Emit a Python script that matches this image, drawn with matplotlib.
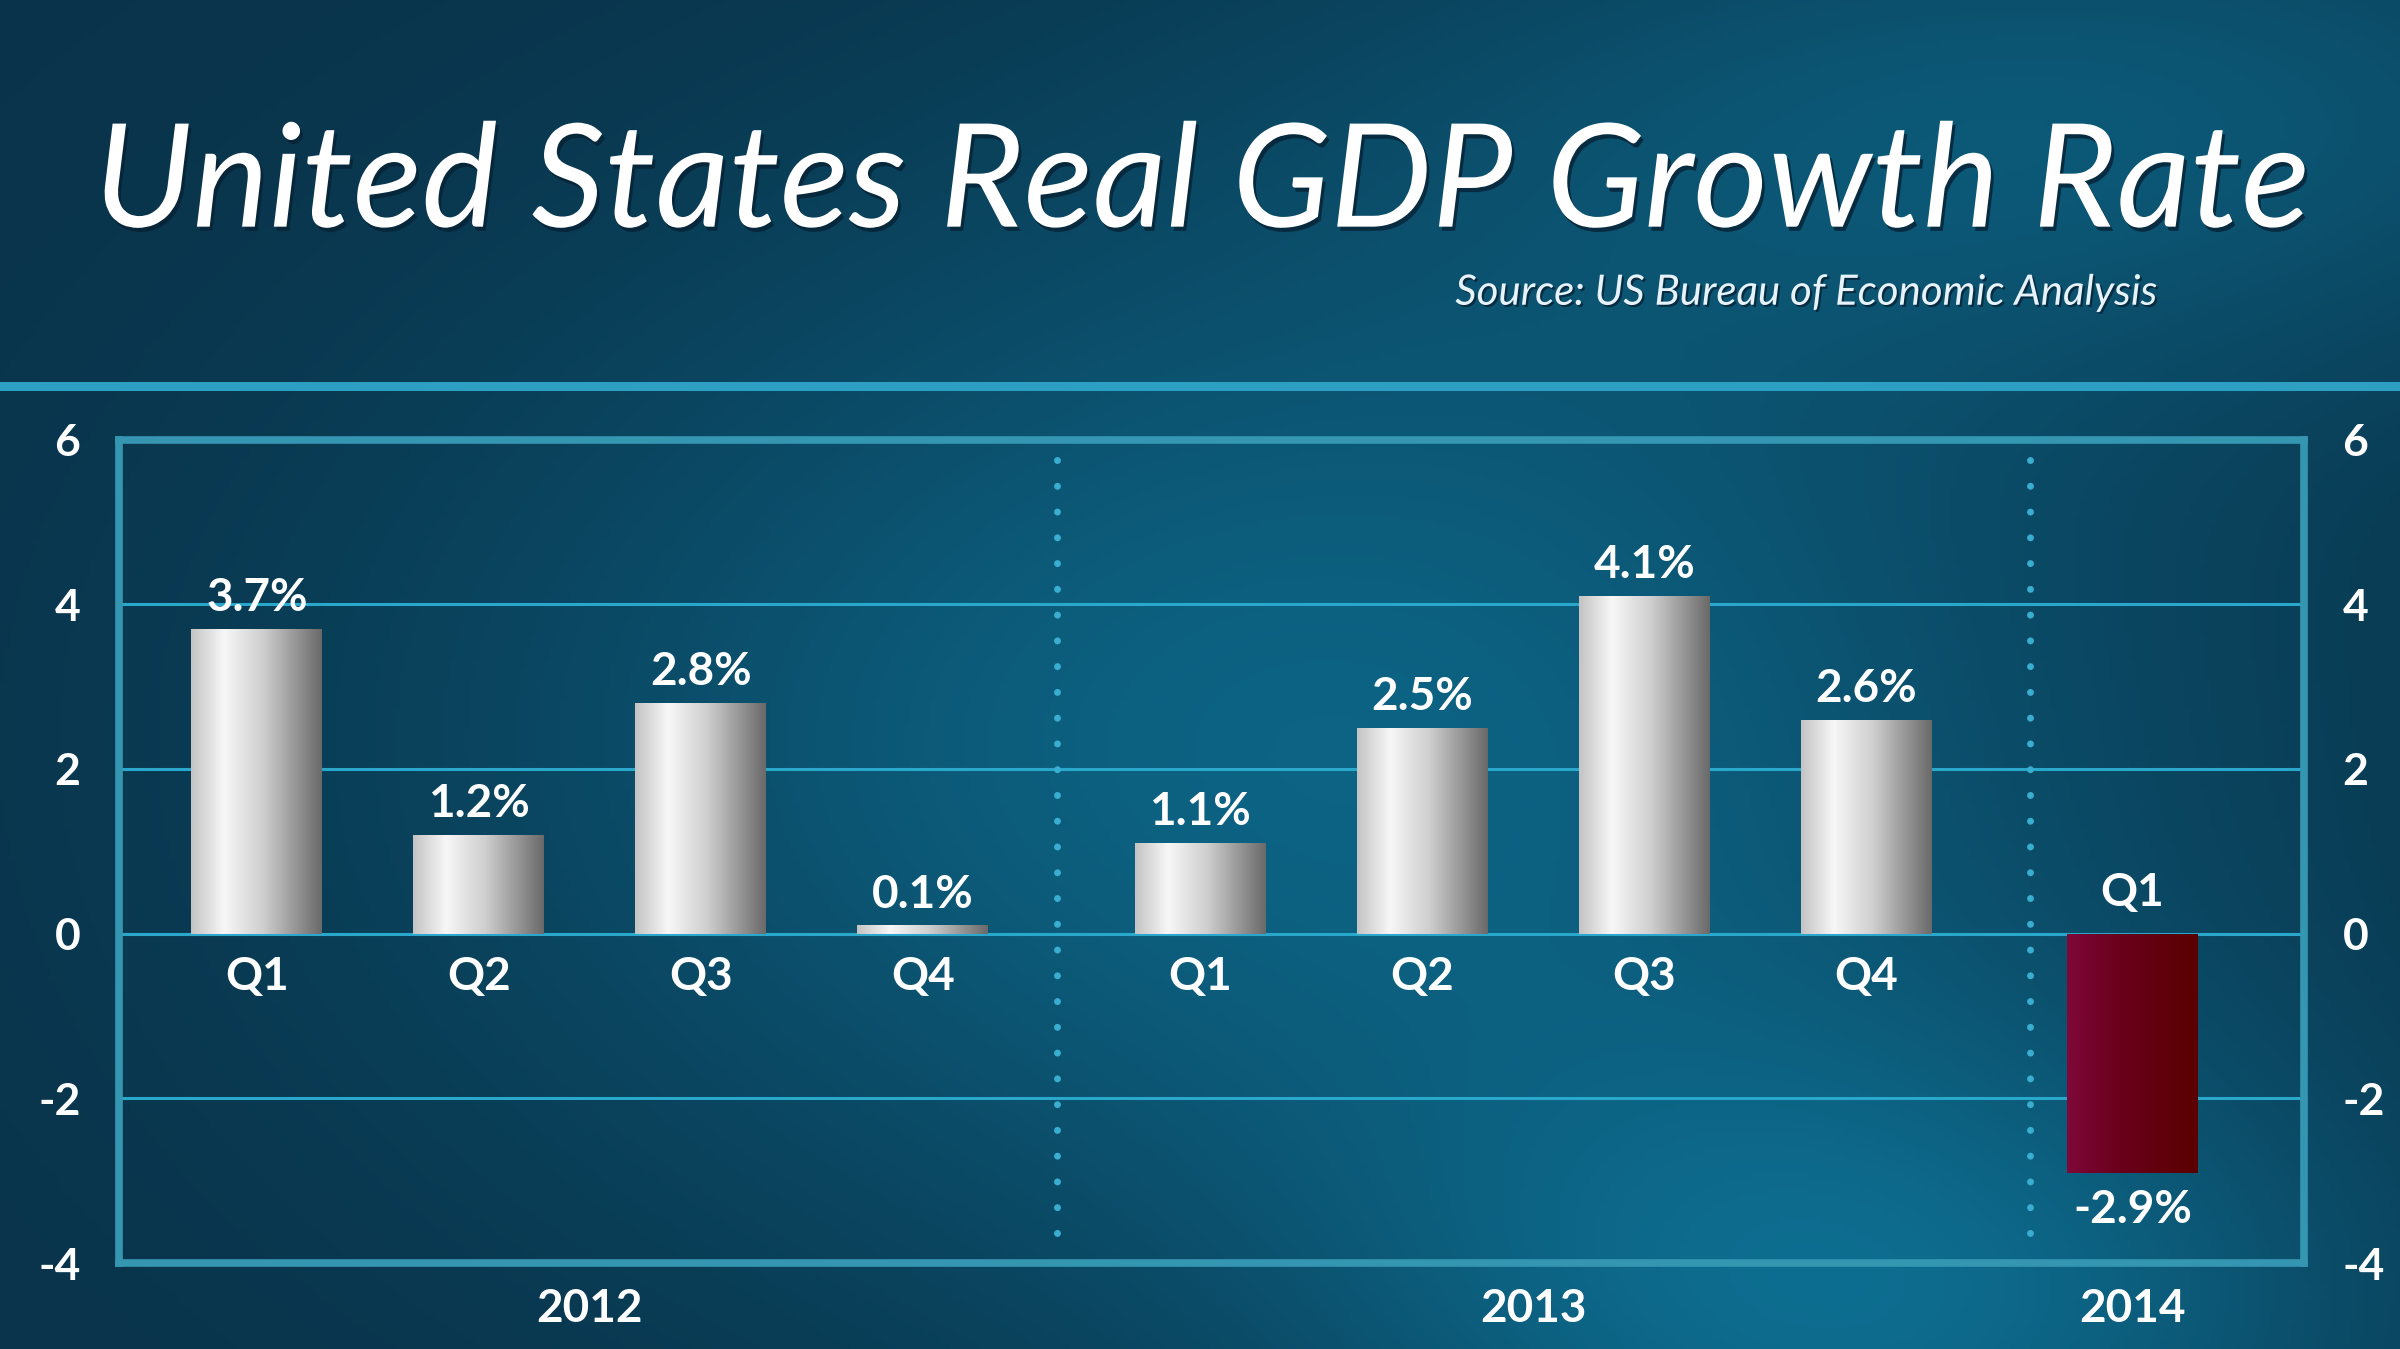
import numpy as np
import matplotlib.pyplot as plt
import matplotlib.patheffects as pe
from matplotlib.colors import LinearSegmentedColormap
from matplotlib.transforms import blended_transform_factory

# Data (quarterly real GDP growth, annualised %)
years = ["2012", "2013", "2014"]
quarters = ["Q1", "Q2", "Q3", "Q4", "Q1", "Q2", "Q3", "Q4", "Q1"]
year_of_bar = [0, 0, 0, 0, 1, 1, 1, 1, 2]
growth = [3.7, 1.2, 2.8, 0.1, 1.1, 2.5, 4.1, 2.6, -2.9]
value_labels = ["3.7%", "1.2%", "2.8%", "0.1%", "1.1%", "2.5%", "4.1%", "2.6%", "-2.9%"]
y_ticks = [-4, -2, 0, 2, 4, 6]

title = "United States Real GDP Growth Rate"
source = "Source: US Bureau of Economic Analysis"

# layout: quarters spaced 1 apart, a bit of extra room between years
group_gap = [0.0, 0.25, 0.45]
xpos = [i + group_gap[g] for i, g in enumerate(year_of_bar)]
bar_width = 0.59

W, H, DPI = 24, 13.49, 100
fig = plt.figure(figsize=(W, H), dpi=DPI)

# background: dark navy with a soft teal glow
bg = fig.add_axes([0, 0, 1, 1], zorder=0)
bg.set_axis_off()
ny, nx = 270, 480
yy, xx = np.mgrid[0:1:ny * 1j, 0:1:nx * 1j]   # yy = 0 at top
base = np.array([0.035, 0.20, 0.29])
glow = np.array([0.02, 0.25, 0.30])

def blob(cx, cy, sx, sy):
    return np.exp(-(((xx - cx) / sx) ** 2 + ((yy - cy) / sy) ** 2))

g = (0.75 * blob(0.55, 0.55, 0.35, 0.40)
     + 0.75 * blob(0.78, 0.98, 0.22, 0.22)
     + 0.50 * blob(0.88, 0.08, 0.30, 0.20))
g = np.clip(g, 0, 1.2)
img = base[None, None, :] + g[..., None] * glow[None, None, :]
img = np.clip(img, 0, 1)
bg.imshow(img, extent=[0, 1, 0, 1], aspect="auto", origin="upper")
bg.set_xlim(0, 1)
bg.set_ylim(0, 1)

# separator line under the title
bg.axhline(0.714, color="#2c9fc2", lw=6.5, zorder=2)

# title and source
t = fig.text(0.501, 0.862, title, ha="center", va="center", color="white",
             family="Lato", style="italic", fontsize=100,
             path_effects=[pe.withSimplePatchShadow(offset=(2, -3), shadow_rgbFace="#062235", alpha=0.8)])
s = fig.text(0.899, 0.783, source, ha="right", va="center", color="#e6f3fb",
             family="Lato", style="italic", fontsize=30,
             path_effects=[pe.withSimplePatchShadow(offset=(1.5, -1.5), shadow_rgbFace="#062235", alpha=0.8)])

# fit text widths to the reference
fig.canvas.draw()
r = fig.canvas.get_renderer()
for txt, target in [(t, 2216), (s, 701)]:
    w = txt.get_window_extent(r).width
    txt.set_fontsize(txt.get_fontsize() * target / w)

# main plot
ax = fig.add_axes([0.0497, 0.0636, 0.9101, 0.6106], zorder=1)
ax.patch.set_alpha(0)
xmin, xmax = -0.62, 9.22
ymin, ymax = -4, 6

for yv in [-2, 0, 2, 4]:
    ax.axhline(yv, color="#2aa8cc", lw=2.2, zorder=1)

seps = [(xpos[3] + xpos[4]) / 2 - 0.02, (xpos[7] + xpos[8]) / 2 + 0.14]
for sep in seps:
    ax.plot([sep, sep], [5.75, -3.65], color="#3aaed0", lw=5,
            linestyle=(0, (0.01, 3.7)), dash_capstyle="round", zorder=1)

bars = ax.bar(xpos, growth, width=bar_width, zorder=2, color="#bbbbbb", lw=0)

silver = LinearSegmentedColormap.from_list(
    "silver", [(0, "#c4c4c4"), (0.25, "#f7f7f7"), (0.55, "#cfcfcf"), (1, "#6a6a6a")])
maroon = LinearSegmentedColormap.from_list(
    "maroon", [(0, "#7e0838"), (0.4, "#6a001c"), (1, "#5a0000")])
grad = np.linspace(0, 1, 200)[None, :]

for rect, v in zip(bars, growth):
    x0, y0 = rect.get_x(), rect.get_y()
    w, h = rect.get_width(), rect.get_height()
    im = ax.imshow(grad, cmap=silver if v >= 0 else maroon, aspect="auto",
                   extent=[x0, x0 + w, min(y0, y0 + h), max(y0, y0 + h)],
                   zorder=3, interpolation="bicubic")
    im.set_clip_path(rect)

lab = dict(color="white", family="Lato", fontweight="bold", fontsize=33, ha="center")
for x, v, txt, q in zip(xpos, growth, value_labels, quarters):
    if v >= 0:
        ax.annotate(txt, (x, v), xytext=(0, 7), textcoords="offset points",
                    va="bottom", zorder=5, **lab)
        ax.annotate(q, (x, 0), xytext=(0, -31), textcoords="offset points",
                    va="center", zorder=5, **lab)
    else:
        ax.annotate(txt, (x, v), xytext=(0, -27), textcoords="offset points",
                    va="center", zorder=5, **lab)
        ax.annotate(q, (x, 0), xytext=(0, 29), textcoords="offset points",
                    va="center", zorder=5, **lab)

# year labels centred under their quarters
trans = blended_transform_factory(ax.transData, ax.transAxes)
for gi, yr in enumerate(years):
    xs = [x for x, g in zip(xpos, year_of_bar) if g == gi]
    ax.text((min(xs) + max(xs)) / 2, -0.055, yr, transform=trans, va="center", **lab)

ax.set_xlim(xmin, xmax)
ax.set_ylim(ymin, ymax)
ax.set_xticks([])
ax.set_yticks(y_ticks)
ax.set_yticklabels([str(v) for v in y_ticks])
ax.tick_params(axis="y", length=0, labelsize=32, labelcolor="white",
               left=False, right=False, labelright=True, pad=28)
for lbl in ax.get_yticklabels():
    lbl.set_fontfamily("Lato")
    lbl.set_fontweight("bold")
for sp in ax.spines.values():
    sp.set_color("#3596b2")
    sp.set_linewidth(5.5)
    sp.set_zorder(4)

fig.savefig("out.png", dpi=DPI)
